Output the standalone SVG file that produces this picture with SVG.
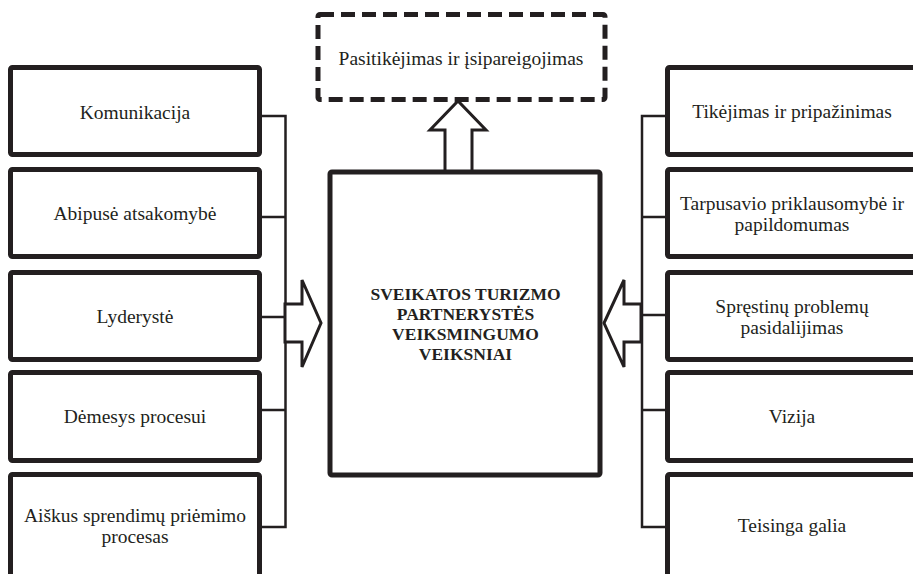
<svg xmlns="http://www.w3.org/2000/svg" width="913" height="574" viewBox="0 0 913 574">
<style>
.box{fill:#fff;stroke:#231f20;stroke-width:5;stroke-linejoin:round}
.dash{fill:#fff;stroke:#231f20;stroke-width:5;stroke-dasharray:14 7;stroke-linejoin:round}
text{font-family:'Liberation Serif','Times New Roman',serif;fill:#231f20;text-anchor:middle}
.t{font-size:19.5px}
.b{font-size:17.5px;font-weight:bold}
.ln{fill:none;stroke:#231f20;stroke-width:2.5}
.arr{fill:#fff;stroke:#231f20;stroke-width:3;stroke-linejoin:miter}
</style>
<rect width="913" height="574" fill="#fff"/>
<g id="connectors">
<path class="ln" d="M259.5 116H285.5V527H259.5M259.5 217H285.5M259.5 317H285.5M259.5 410H285.5"/>
<path class="ln" d="M667.5 116H642V527H667.5M642 217H667.5M642 315H667.5M642 410H667.5"/>
<polygon class="arr" points="285,304 302,304 302,280 321,323 302,367 302,342 285,342"/>
<polygon class="arr" points="641,304 624,304 624,280 604,323 624,367 624,342 641,342"/>
<polygon class="arr" points="445,172 445,130 430,130 458,101 486,130 472,130 472,172"/>
</g>
<g id="top"><rect class="dash" x="318" y="14.5" width="287" height="85" rx="2"/><text class="t" x="461" y="65">Pasitikėjimas ir įsipareigojimas</text></g>
<g id="center"><rect class="box" x="330" y="172" width="270" height="303" rx="2"/>
<text class="b" x="465.5" y="300">SVEIKATOS TURIZMO</text>
<text class="b" x="465.5" y="320">PARTNERYSTĖS</text>
<text class="b" x="465.5" y="340">VEIKSMINGUMO</text>
<text class="b" x="465.5" y="360">VEIKSNIAI</text></g>
<g id="l1"><rect class="box" x="10.5" y="67.5" width="249" height="87" rx="2"/><text class="t" x="135" y="118.5">Komunikacija</text></g>
<g id="l2"><rect class="box" x="10.5" y="169.5" width="249" height="87" rx="2"/><text class="t" x="135" y="220">Abipusė atsakomybė</text></g>
<g id="l3"><rect class="box" x="10.5" y="272.5" width="249" height="87" rx="2"/><text class="t" x="135" y="323">Lyderystė</text></g>
<g id="l4"><rect class="box" x="10.5" y="372.5" width="249" height="88" rx="2"/><text class="t" x="135" y="423">Dėmesys procesui</text></g>
<g id="l5"><rect class="box" x="10.5" y="474.5" width="249" height="103" rx="2"/><text class="t" x="135" y="522">Aiškus sprendimų priėmimo</text><text class="t" x="135" y="542.5">procesas</text></g>
<g id="r1"><rect class="box" x="667.5" y="67.5" width="252" height="87" rx="2"/><text class="t" x="792" y="118">Tikėjimas ir pripažinimas</text></g>
<g id="r2"><rect class="box" x="667.5" y="169.5" width="252" height="87" rx="2"/><text class="t" x="792" y="210">Tarpusavio priklausomybė ir</text><text class="t" x="792" y="230.5">papildomumas</text></g>
<g id="r3"><rect class="box" x="667.5" y="272.5" width="252" height="87" rx="2"/><text class="t" x="792" y="313">Spręstinų problemų</text><text class="t" x="792" y="333.5">pasidalijimas</text></g>
<g id="r4"><rect class="box" x="667.5" y="372.5" width="252" height="88" rx="2"/><text class="t" x="792" y="423">Vizija</text></g>
<g id="r5"><rect class="box" x="667.5" y="474.5" width="252" height="103" rx="2"/><text class="t" x="792" y="532">Teisinga galia</text></g>
</svg>
